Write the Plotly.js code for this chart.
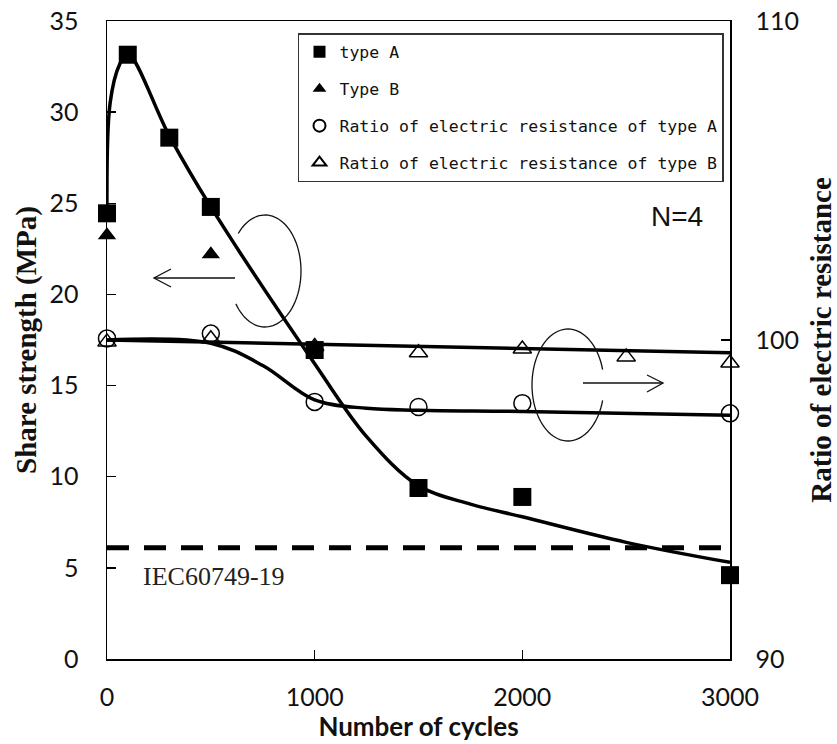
<!DOCTYPE html>
<html>
<head>
<meta charset="utf-8">
<script src="https://cdn.plot.ly/plotly-3.0.1.min.js"></script>
<style>html,body{margin:0;padding:0;background:#fff;}#chart{width:837px;height:744px;}</style>
</head>
<body>
<div id="chart"></div>
<script>
// ---- data ----
const typeA_x = [0, 100, 300, 500, 1000, 1500, 2000, 3000];
const typeA_y = [24.45, 33.15, 28.6, 24.8, 16.95, 9.38, 8.89, 4.6];

const typeB_x = [0, 500, 1000];
const typeB_y = [23.25, 22.2, 17.1];

const ratioA_x = [0, 500, 1000, 1500, 2000, 3000];
const ratioA_y = [100.05, 100.2, 98.06, 97.9, 98.02, 97.7];

const ratioB_x = [0, 500, 1000, 1500, 2000, 2500, 3000];
const ratioB_y = [99.94, 100.04, 99.8, 99.6, 99.72, 99.47, 99.28];

// fitted trend curves as drawn in the reference
const trendA_x = [0, 15, 60, 100, 300, 500, 1000, 1250, 1500, 1750, 2000, 2500, 3000];
const trendA_y = [24.4, 30.5, 32.6, 33.2, 28.7, 24.8, 16.2, 12.2, 9.5, 8.5, 7.8, 6.4, 5.3];

const trendRA_x = [0, 500, 750, 1000, 1250, 1500, 2000, 3000];
const trendRA_y = [100.0, 99.9, 99.2, 98.12, 97.86, 97.8, 97.76, 97.64];

const trendRB_x = [0, 1500, 3000];
const trendRB_y = [100.0, 99.8, 99.6];

const std_x = [0, 3000];
const std_y = [6.1, 6.1];

const xTicks = [0, 1000, 2000, 3000];
const yTicks = [0, 5, 10, 15, 20, 25, 30, 35];
const y2Ticks = [90, 100, 110];

// ---- layout geometry ----
const W = 837, H = 744;
const M = {l: 107, r: 107, t: 21, b: 85};
const PW = W - M.l - M.r, PH = H - M.t - M.b;
const px = (x) => ((x - M.l) / PW).toFixed(5);
const py = (y) => ((H - M.b - y) / PH).toFixed(5);

function arcPath(cx, cy, rx, ry, a0, a1, n) {
  let d = '';
  for (let i = 0; i <= n; i++) {
    const a = (a0 + (a1 - a0) * i / n) * Math.PI / 180;
    const x = cx + rx * Math.cos(a), y = cy + ry * Math.sin(a);
    d += (i === 0 ? 'M' : 'L') + px(x) + ',' + py(y);
  }
  return d;
}
function polyPath(pts) {
  return pts.map((p, i) => (i === 0 ? 'M' : 'L') + px(p[0]) + ',' + py(p[1])).join('');
}

const thin = {color: '#111', width: 1.3};
const shapes = [
  {type: 'path', xref: 'paper', yref: 'paper', path: arcPath(265, 271, 36, 56, -138, 144, 80), line: thin},
  {type: 'path', xref: 'paper', yref: 'paper', path: polyPath([[235, 278], [154, 278]]), line: thin},
  {type: 'path', xref: 'paper', yref: 'paper', path: polyPath([[171, 269], [154, 278], [171, 287]]), line: thin},
  {type: 'path', xref: 'paper', yref: 'paper', path: arcPath(568, 385, 36, 56, 16, 344, 80), line: thin},
  {type: 'path', xref: 'paper', yref: 'paper', path: polyPath([[583, 383], [663, 383]]), line: thin},
  {type: 'path', xref: 'paper', yref: 'paper', path: polyPath([[647, 375], [663, 383], [647, 392]]), line: thin}
];

const tickFont = {family: 'Lato, "Open Sans", sans-serif', size: 25, color: '#111'};
const serifTitle = {family: '"Liberation Serif", "DejaVu Serif", serif', size: 29, color: '#111'};

const traces = [
  {x: trendRB_x, y: trendRB_y, yaxis: 'y2', mode: 'lines', line: {color: '#000', width: 3.5}, showlegend: false, hoverinfo: 'skip'},
  {x: trendRA_x, y: trendRA_y, yaxis: 'y2', mode: 'lines', line: {color: '#000', width: 3.5, shape: 'spline', smoothing: 1}, showlegend: false, hoverinfo: 'skip'},
  {x: trendA_x, y: trendA_y, mode: 'lines', line: {color: '#000', width: 3.5, shape: 'spline', smoothing: 1}, showlegend: false, hoverinfo: 'skip'},
  {x: std_x, y: std_y, mode: 'lines', line: {color: '#000', width: 5, dash: '22px,15px'}, showlegend: false, hoverinfo: 'skip'},
  {x: ratioB_x, y: ratioB_y, yaxis: 'y2', mode: 'markers', name: 'Ratio of electric resistance of type B', legendgroup: 'd', legendrank: 4,
   marker: {symbol: 'triangle-up-open', size: 16, color: '#000', line: {width: 1.5, color: '#000'}}, cliponaxis: false},
  {x: ratioA_x, y: ratioA_y, yaxis: 'y2', mode: 'markers', name: 'Ratio of electric resistance of type A', legendgroup: 'c', legendrank: 3,
   marker: {symbol: 'circle-open', size: 17, color: '#000', line: {width: 1.5, color: '#000'}}, cliponaxis: false},
  {x: typeB_x, y: typeB_y, mode: 'markers', name: 'Type B', legendgroup: 'b', legendrank: 2,
   marker: {symbol: 'triangle-up', size: 16, color: '#000'}, cliponaxis: false},
  {x: typeA_x, y: typeA_y, mode: 'markers', name: 'type A', legendgroup: 'a', legendrank: 1,
   marker: {symbol: 'square', size: 18, color: '#000'}, cliponaxis: false}
];

const layout = {
  width: W, height: H,
  margin: M,
  paper_bgcolor: '#fff', plot_bgcolor: '#fff',
  showlegend: true,
  legend: {
    x: px(298), y: py(33), xanchor: 'left', yanchor: 'top',
    bgcolor: '#fff', bordercolor: '#333', borderwidth: 1.5,
    font: {family: '"DejaVu Sans Mono", monospace', size: 16.5, color: '#111'},
    traceorder: 'grouped', tracegroupgap: 12.5, itemsizing: 'constant', itemwidth: 30
  },
  xaxis: {
    range: [0, 3000], tickvals: xTicks, ticks: 'inside', ticklen: 9, tickwidth: 1.5, tickcolor: '#000',
    showline: true, linecolor: '#000', linewidth: 1.5, mirror: true, showgrid: false, zeroline: false,
    tickfont: tickFont, ticklabelstandoff: 15,
    title: {text: '<b>Number of cycles</b>', font: {family: 'Lato, "Open Sans", sans-serif', size: 26, color: '#111'}, standoff: 0}
  },
  yaxis: {
    range: [0, 35], tickvals: yTicks, ticks: 'inside', ticklen: 9, tickwidth: 1.5, tickcolor: '#000',
    showline: true, linecolor: '#000', linewidth: 1.5, showgrid: false, zeroline: false,
    tickfont: tickFont, ticklabelstandoff: 22,
    title: {text: '<b>Share strength (MPa)</b>', font: serifTitle, standoff: 4}
  },
  yaxis2: {
    overlaying: 'y', side: 'right', range: [90, 110], tickvals: y2Ticks, ticks: 'inside', ticklen: 9, tickwidth: 1.5, tickcolor: '#000',
    showline: true, linecolor: '#000', linewidth: 1.5, showgrid: false, zeroline: false,
    tickfont: tickFont, ticklabelstandoff: 19,
    title: {text: '<b>Ratio of electric resistance</b>', font: serifTitle, standoff: 13}
  },
  shapes: shapes,
  annotations: [
    {xref: 'paper', yref: 'paper', x: px(214), y: py(577), text: 'IEC60749-19', showarrow: false, xanchor: 'center', yanchor: 'middle',
     font: {family: '"Liberation Serif", serif', size: 26, color: '#222'}},
    {xref: 'paper', yref: 'paper', x: px(677), y: py(217), text: 'N=4', showarrow: false, xanchor: 'center', yanchor: 'middle',
     font: {family: '"Liberation Sans", Arial, sans-serif', size: 28, color: '#111'}}
  ]
};

Plotly.newPlot('chart', traces, layout, {displayModeBar: false, staticPlot: true});
</script>
</body>
</html>
